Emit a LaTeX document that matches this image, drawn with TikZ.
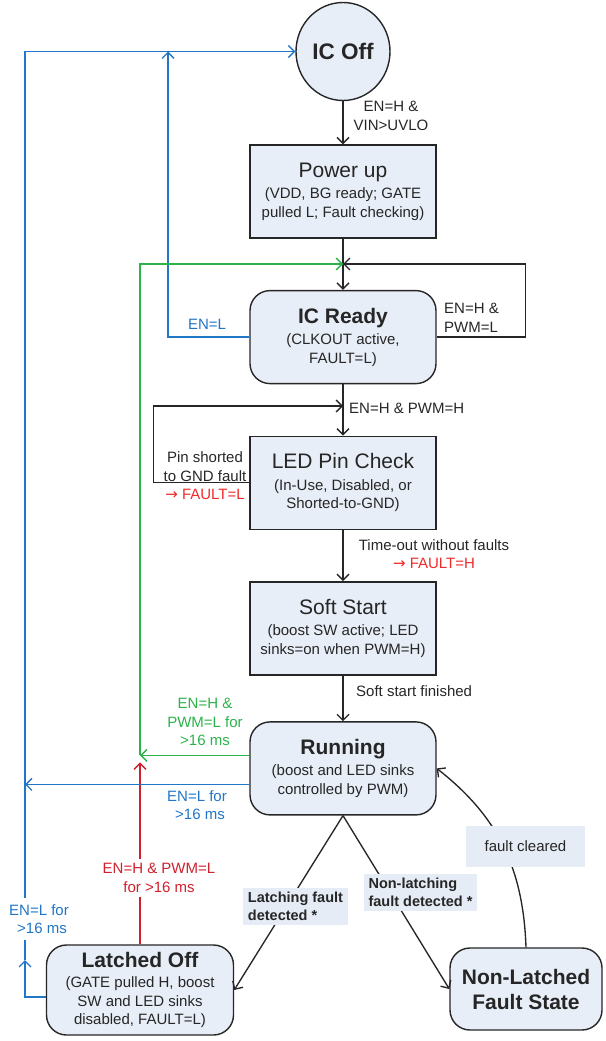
\documentclass[tikz,border=0pt]{standalone}
\usepackage{fontspec}
\setmainfont{Liberation Sans}
\newfontfamily\arrowfont{DejaVu Sans}
\usetikzlibrary{arrows.meta, positioning, shapes.geometric}
\definecolor{stateFill}{HTML}{E8EEF7}
\definecolor{tagFill}{HTML}{E6ECF5}
\definecolor{textDark}{HTML}{262626}
\definecolor{lineBlue}{HTML}{2176C5}
\definecolor{lineGreen}{HTML}{2DB24B}
\definecolor{lineRed}{HTML}{D0202E}
\definecolor{faultRed}{HTML}{EE2A2A}

\begin{document}
\begin{tikzpicture}[
    x=1pt, y=-1pt,
    node distance=51.2pt,
    statebox/.style={rectangle, draw=textDark, fill=stateFill, line width=1.4pt,
                 minimum width=186pt, minimum height=93pt, align=center,
                 text=textDark, font=\fontsize{15}{18.5}\selectfont, inner sep=2pt},
    roundbox/.style={statebox, rounded corners=20pt},
    offstate/.style={ellipse, draw=textDark, fill=stateFill, line width=1.4pt,
                 minimum width=94pt, minimum height=98pt, inner sep=0pt,
                 text=textDark, font=\fontsize{22.5}{26}\selectfont\bfseries},
    cond/.style={text=textDark, font=\fontsize{15}{18.5}\selectfont,
                 align=center, inner sep=1pt},
    tag/.style={fill=tagFill, text=textDark, font=\fontsize{14.5}{17.5}\selectfont\bfseries,
                 align=left, inner xsep=5pt, inner ysep=4pt},
    flow/.style={draw=textDark, line width=1.35pt, -{Straight Barb[length=6pt,width=12pt]}},
    bflow/.style={flow, draw=lineBlue},
    gflow/.style={flow, draw=lineGreen},
    rflow/.style={flow, draw=lineRed},
  ]
    \useasboundingbox (0,0) rectangle (605,1041);

    % states
    \node[offstate] (icoff) at (343,51.5) {IC Off};
    \node[statebox] (powerup) at (343,191.5) {{\fontsize{21}{24}\selectfont Power up}\\[3pt]
      (VDD, BG ready; GATE\\pulled L; Fault checking)};
    \node[roundbox, below=of powerup] (icready) {{\fontsize{21}{24}\selectfont\bfseries IC Ready}\\[3pt]
      (CLKOUT active,\\FAULT=L)};
    \node[statebox, below=of icready] (ledcheck) {{\fontsize{21}{24}\selectfont LED Pin Check}\\[3pt]
      (In-Use, Disabled, or\\Shorted-to-GND)};
    \node[statebox, below=of ledcheck] (softstart) {{\fontsize{21}{24}\selectfont Soft Start}\\[3pt]
      (boost SW active; LED\\sinks=on when PWM=H)};
    \node[roundbox, below=45.7pt of softstart] (running) {{\fontsize{21}{24}\selectfont\bfseries Running}\\[3pt]
      (boost and LED sinks\\controlled by PWM)};
    \node[roundbox, minimum width=187pt, minimum height=90pt] (latched) at (140,990)
      {{\fontsize{21}{24}\selectfont\bfseries Latched Off}\\[2pt]
      (GATE pulled H, boost\\SW and LED sinks\\disabled, FAULT=L)};
    \node[roundbox, minimum width=152pt, minimum height=82pt,
          font=\fontsize{21}{25}\selectfont\bfseries] (nonlatched) at (526,989)
      {Non-Latched\\Fault State};

    % joints
    \coordinate (readyin) at (343,264);
    \coordinate (ledin) at (343,406);
    \coordinate (offjoin) at (168,51.5);
    \coordinate (midrail) at (140,0);
    \coordinate (leftrail) at (25,0);
    \coordinate (runout) at ([yshift=13pt]running.west);
    \coordinate (runleft) at ([yshift=-16pt]running.west);
    \coordinate (redtip) at ([yshift=-7pt]runout -| midrail);
    \coordinate (leftup) at (25,960);

    % main flow
    \draw[flow] (icoff.south) -- (powerup.north);
    \draw[flow] (powerup.south) -- (icready.north);
    \draw[flow] (icready.east) -- ++(89,0) |- (readyin);
    \draw[flow] (icready.south) -- (ledcheck.north);
    \draw[flow] (ledcheck.west) -- ++(-96,0) |- (ledin);
    \draw[flow] (ledcheck.south) -- (softstart.north);
    \draw[flow] (softstart.south) -- (running.north);
    \draw[flow] (running.south) -- (latched.east);
    \draw[flow] (running.south) -- (nonlatched.west);
    \draw[flow] (nonlatched.north) to[out=92,in=-38] (running.east);

    % back paths
    \draw[bflow] (icready.west) -| (offjoin);
    \draw[gflow] (runout) -- (runout -| midrail);
    \draw[gflow] (runout -| midrail) |- (readyin);
    \draw[rflow] (latched.north) -- (redtip);
    \draw[bflow] (runleft) -- (runleft -| leftrail);
    \draw[bflow] ([yshift=-7pt]latched.west) -| (leftup);
    \draw[bflow] (leftup) |- (icoff.west);

    % conditions
    \node[cond] (c0) at (391,116) {EN=H \&\\VIN>UVLO};
    \node[cond, anchor=west, align=left] (c1) at (443,318) {EN=H \&\\PWM=L};
    \node[cond, text=lineBlue] (c2) at (207,324) {EN=L};
    \node[cond, anchor=west] (c3) at (348,408) {EN=H \& PWM=H};
    \node[cond] (c4) at (205,476) {Pin shorted\\to GND fault\\\textcolor{faultRed}{{\arrowfont →} FAULT=L}};
    \node[cond] (c5) at (434,554) {Time-out without faults\\\textcolor{faultRed}{{\arrowfont →} FAULT=H}};
    \node[cond, anchor=west] (c6) at (355,691) {Soft start finished};
    \node[cond, text=lineGreen] (c7) at (205,722) {EN=H \&\\PWM=L for\\>16 ms};
    \node[cond, text=lineBlue] (c8) at (197,805) {EN=L for\\\hspace*{6pt}>16 ms};
    \node[cond, text=lineRed, fill=white, inner ysep=4pt] (c9) at (159,878) {EN=H \& PWM=L\\for >16 ms};
    \node[cond, text=lineBlue, fill=white, inner ysep=6pt] (c10) at (39,919) {EN=L for\\\hspace*{6pt}>16 ms};

    % fault tags
    \node[tag] (t0) at (295.5,906.5) {Latching fault\\detected *};
    \node[tag] (t1) at (420.5,892.5) {Non-latching\\fault detected *};
    \node[tag, font=\fontsize{15}{18}\selectfont, minimum width=119pt, minimum height=41pt,
          align=center] (t2) at (525.5,846.5) {fault cleared};
  \end{tikzpicture}
\end{document}
